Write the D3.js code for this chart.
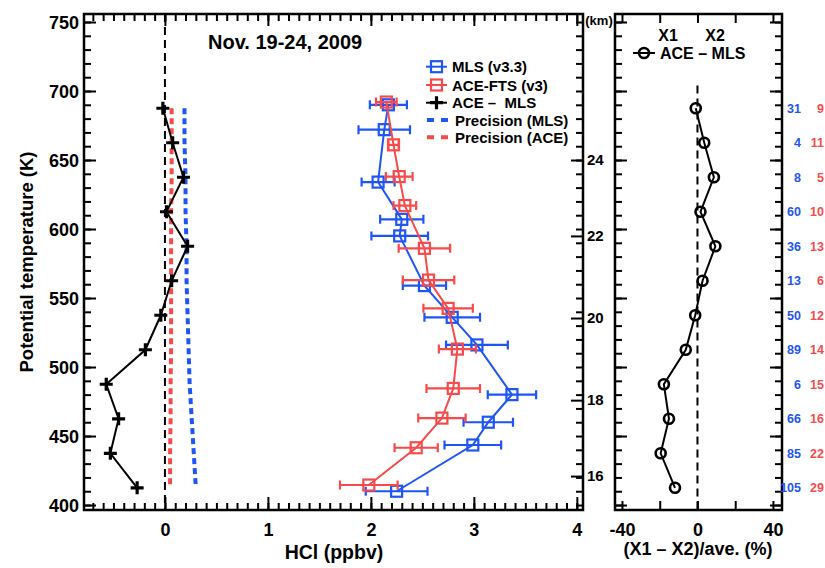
<!DOCTYPE html>
<html><head><meta charset="utf-8">
<script src="https://cdn.jsdelivr.net/npm/d3@7"></script>
<style>
body{margin:0;background:#fff}
svg{display:block}
text{font-family:"Liberation Sans",Arial,Helvetica,sans-serif;font-weight:bold;fill:#000;white-space:pre}
</style>
</head><body>
<svg id="c" width="825" height="568"></svg>
<script>
// ---------------- data ----------------
const thetaLevels = [687.5, 662.5, 637.5, 612.5, 587.5, 562.5, 537.5, 512.5, 487.5, 462.5, 437.5, 412.5];
const diffAceMls  = [-0.02, 0.075, 0.18, 0.015, 0.22, 0.065, -0.04, -0.19, -0.57, -0.45, -0.53, -0.27];
const precMls     = [0.19, 0.19, 0.20, 0.20, 0.21, 0.21, 0.22, 0.23, 0.24, 0.26, 0.28, 0.30];
const precAce     = [0.065, 0.065, 0.065, 0.06, 0.06, 0.06, 0.06, 0.06, 0.055, 0.055, 0.05, 0.05];

const mlsTheta = [690, 672, 634, 607, 595, 559, 536, 516, 480, 460, 443.5, 410];
const mlsHCl   = [2.17, 2.13, 2.07, 2.30, 2.28, 2.52, 2.79, 3.03, 3.37, 3.14, 2.99, 2.25];
const mlsErr   = [0.18, 0.25, 0.16, 0.21, 0.275, 0.21, 0.27, 0.30, 0.235, 0.24, 0.275, 0.30];

const aceTheta = [692, 661, 638, 617, 586, 563, 542.5, 513, 484.5, 463, 441.5, 414.5];
const aceHCl   = [2.15, 2.22, 2.275, 2.33, 2.52, 2.56, 2.75, 2.84, 2.80, 2.69, 2.44, 1.98];
const aceErr   = [0.10, 0.05, 0.13, 0.11, 0.25, 0.25, 0.24, 0.18, 0.26, 0.23, 0.21, 0.28];

const relDiff = [-0.9, 3.6, 8.7, 1.6, 9.5, 2.7, -1.2, -6.2, -17.8, -15.1, -19.5, -11.9];
const nMls = [31, 4, 8, 60, 36, 13, 50, 89, 6, 66, 85, 105];
const nAce = [9, 11, 5, 10, 13, 6, 12, 14, 15, 16, 22, 29];

const kmLabels = [24, 22, 20, 18, 16];
const kmTheta  = [650, 595, 535.5, 476, 421];

const thetaMajorTicks = [400, 450, 500, 550, 600, 650, 700, 750];
const hclMajorTicks = [0, 1, 2, 3, 4];
const pctTicks = [-40, -20, 0, 20, 40];
const pctLabels = [-40, 0, 40];

const titleText = "Nov. 19-24, 2009";
const legendLeft = ["MLS (v3.3)", "ACE-FTS (v3)", "ACE \u2013  MLS", "Precision (MLS)", "Precision (ACE)"];

// ---------------- setup ----------------
const svg = d3.select("#c");
const blue = "#1f55f2", red = "#f74a4a";
const P = {x0: 84, x1: 583, y0: 14, y1: 510};
const Q = {x0: 615, x1: 782};

const y  = d3.scaleLinear().domain([396.4, 755.8]).range([P.y1, P.y0]);
const xL = d3.scaleLinear().domain([-0.786, 4.06]).range([P.x0, P.x1]);
const xR = d3.scaleLinear().domain([-43.7, 44.8]).range([Q.x0, Q.x1]);

function styleAxis(g, fs) {
  g.select(".domain").remove();
  g.selectAll(".tick line").attr("stroke", "#000").attr("stroke-width", 2);
  g.selectAll(".tick text").attr("fill", "#000").style("font-size", fs + "px")
    .style("font-family", '"Liberation Sans",Arial,sans-serif').style("font-weight", "bold");
  return g;
}
function add(axis, tx, ty, fs) {
  return styleAxis(svg.append("g").attr("transform", `translate(${tx},${ty})`).call(axis), fs || 18);
}
const thetaMinor = d3.range(400, 751, 10);
const hclMinor = d3.range(-7, 41).map(i => i / 10);

// ---------------- left panel axes ----------------
add(d3.axisLeft(y).tickValues(thetaMinor).tickSize(-7).tickFormat(""), P.x0, 0);
add(d3.axisLeft(y).tickValues(thetaMajorTicks).tickSize(-12).tickPadding(5).tickFormat(d3.format("d")), P.x0, 0, 18)
  .selectAll(".tick text").attr("dy", "0.36em");
add(d3.axisBottom(xL).tickValues(hclMinor).tickSize(-7).tickFormat(""), 0, P.y1);
add(d3.axisBottom(xL).tickValues(hclMajorTicks).tickSize(-13).tickPadding(13).tickFormat(d3.format("d")), 0, P.y1, 18);
add(d3.axisTop(xL).tickValues(hclMinor).tickSize(-7).tickFormat(""), 0, P.y0);
add(d3.axisTop(xL).tickValues(hclMajorTicks).tickSize(-12).tickFormat(""), 0, P.y0);
add(d3.axisRight(y).tickValues(thetaMinor).tickSize(-7).tickFormat(""), P.x1, 0);
add(d3.axisRight(y).tickValues(kmTheta).tickSize(-12).tickPadding(4).tickFormat((d, i) => kmLabels[i]), P.x1, 0, 15);

svg.append("rect").attr("x", P.x0).attr("y", P.y0).attr("width", P.x1 - P.x0).attr("height", P.y1 - P.y0)
  .attr("fill", "none").attr("stroke", "#000").attr("stroke-width", 2.5);
svg.append("text").attr("x", 599).attr("y", 25).attr("text-anchor", "middle").style("font-size", "13px").text("(km)");

// zero line
svg.append("line").attr("x1", xL(0)).attr("x2", xL(0)).attr("y1", P.y0).attr("y2", P.y1)
  .attr("stroke", "#000").attr("stroke-width", 2).attr("stroke-dasharray", "8,5");

// precision lines
const idx = d3.range(thetaLevels.length);
svg.append("path").attr("d", d3.line().x(i => xL(precMls[i])).y(i => y(thetaLevels[i]))(idx))
  .attr("fill", "none").attr("stroke", blue).attr("stroke-width", 4).attr("stroke-dasharray", "6,4");
svg.append("path").attr("d", d3.line().x(i => xL(precAce[i])).y(i => y(thetaLevels[i]))(idx))
  .attr("fill", "none").attr("stroke", red).attr("stroke-width", 4).attr("stroke-dasharray", "6,4");

// difference line with crosses
svg.append("path").attr("d", d3.line().x(i => xL(diffAceMls[i])).y(i => y(thetaLevels[i]))(idx))
  .attr("fill", "none").attr("stroke", "#000").attr("stroke-width", 2);
const crossPath = "M-6.5,0H6.5M0,-6.5V6.5";
svg.append("g").selectAll("path").data(idx).join("path")
  .attr("transform", i => `translate(${xL(diffAceMls[i])},${y(thetaLevels[i])})`)
  .attr("d", crossPath).attr("stroke", "#000").attr("stroke-width", 3.2).attr("fill", "none");

// series with error bars
function series(th, val, err, col) {
  const g = svg.append("g");
  const ii = d3.range(th.length);
  const eb = g.append("g").attr("stroke", col).attr("stroke-width", 2.2).attr("fill", "none");
  eb.selectAll("path").data(ii).join("path").attr("d", i => {
    const yy = y(th[i]), a = xL(val[i] - err[i]), b = xL(val[i] + err[i]);
    return `M${a},${yy}H${b}M${a},${yy - 4.5}V${yy + 4.5}M${b},${yy - 4.5}V${yy + 4.5}`;
  });
  g.append("path").attr("d", d3.line().x(i => xL(val[i])).y(i => y(th[i]))(ii))
    .attr("fill", "none").attr("stroke", col).attr("stroke-width", 2);
  g.selectAll("rect").data(ii).join("rect")
    .attr("x", i => xL(val[i]) - 5.5).attr("y", i => y(th[i]) - 5.5)
    .attr("width", 11).attr("height", 11).attr("fill", "none").attr("stroke", col).attr("stroke-width", 2.2);
}
series(mlsTheta, mlsHCl, mlsErr, blue);
series(aceTheta, aceHCl, aceErr, red);

// title
svg.append("text").attr("x", 208).attr("y", 49).style("font-size", "20px").text(titleText);

// legend
const legY = [66.7, 85, 102.7, 120, 137.3];
const lg = svg.append("g");
[blue, red].forEach((c, k) => {
  lg.append("line").attr("x1", 426).attr("x2", 447).attr("y1", legY[k]).attr("y2", legY[k]).attr("stroke", c).attr("stroke-width", 2);
  lg.append("rect").attr("x", 431).attr("y", legY[k] - 5.5).attr("width", 11).attr("height", 11)
    .attr("fill", "none").attr("stroke", c).attr("stroke-width", 2.2);
});
lg.append("line").attr("x1", 426).attr("x2", 447).attr("y1", legY[2]).attr("y2", legY[2]).attr("stroke", "#000").attr("stroke-width", 2);
lg.append("path").attr("transform", `translate(436.5,${legY[2]})`).attr("d", crossPath).attr("stroke", "#000").attr("stroke-width", 3.2);
[blue, red].forEach((c, k) => {
  lg.append("line").attr("x1", 427).attr("x2", 449).attr("y1", legY[3 + k]).attr("y2", legY[3 + k])
    .attr("stroke", c).attr("stroke-width", 4).attr("stroke-dasharray", "7,7");
});
legendLeft.forEach((t, k) => {
  lg.append("text").attr("x", k < 3 ? 452 : 455).attr("y", legY[k] + 5.5).style("font-size", "15px").text(t);
});

// axis titles
svg.append("text").attr("transform", "translate(33,262) rotate(-90)").attr("text-anchor", "middle")
  .style("font-size", "18.5px").text("Potential temperature (K)");
svg.append("text").attr("x", 334).attr("y", 559).attr("text-anchor", "middle").style("font-size", "19.5px").text("HCl (ppbv)");

// ---------------- right panel ----------------
add(d3.axisLeft(y).tickValues(thetaMinor).tickSize(-7).tickFormat(""), Q.x0, 0);
add(d3.axisLeft(y).tickValues(thetaMajorTicks).tickSize(-12).tickFormat(""), Q.x0, 0);
add(d3.axisRight(y).tickValues(thetaMinor).tickSize(-7).tickFormat(""), Q.x1, 0);
add(d3.axisRight(y).tickValues(thetaMajorTicks).tickSize(-12).tickFormat(""), Q.x1, 0);
add(d3.axisTop(xR).tickValues(pctTicks).tickSize(-9).tickFormat(""), 0, P.y0);
add(d3.axisBottom(xR).tickValues(pctTicks).tickSize(-9).tickPadding(13)
  .tickFormat(d => pctLabels.includes(d) ? String(d) : ""), 0, P.y1, 18);
svg.append("rect").attr("x", Q.x0).attr("y", P.y0).attr("width", Q.x1 - Q.x0).attr("height", P.y1 - P.y0)
  .attr("fill", "none").attr("stroke", "#000").attr("stroke-width", 2.5);

svg.append("line").attr("x1", xR(0)).attr("x2", xR(0)).attr("y1", y(704)).attr("y2", P.y1)
  .attr("stroke", "#000").attr("stroke-width", 2).attr("stroke-dasharray", "8,5");

svg.append("path").attr("d", d3.line().x(i => xR(relDiff[i])).y(i => y(thetaLevels[i]))(idx))
  .attr("fill", "none").attr("stroke", "#000").attr("stroke-width", 2);
svg.append("g").selectAll("circle").data(idx).join("circle")
  .attr("cx", i => xR(relDiff[i])).attr("cy", i => y(thetaLevels[i])).attr("r", 5)
  .attr("fill", "none").attr("stroke", "#000").attr("stroke-width", 2.6);

svg.append("text").attr("x", 668).attr("y", 41).attr("text-anchor", "middle").style("font-size", "16px").text("X1");
svg.append("text").attr("x", 715).attr("y", 41).attr("text-anchor", "middle").style("font-size", "16px").text("X2");
svg.append("line").attr("x1", 633).attr("x2", 655).attr("y1", 53).attr("y2", 53).attr("stroke", "#000").attr("stroke-width", 2);
svg.append("circle").attr("cx", 644).attr("cy", 53).attr("r", 5).attr("fill", "none").attr("stroke", "#000").attr("stroke-width", 2.6);
svg.append("text").attr("x", 660).attr("y", 59).style("font-size", "16px").text("ACE \u2013 MLS");

svg.append("g").selectAll("text").data(idx).join("text")
  .attr("x", 801).attr("y", i => y(thetaLevels[i]) + 4.5).attr("text-anchor", "end")
  .style("font-size", "12.5px").style("fill", blue).text(i => nMls[i]);
svg.append("g").selectAll("text").data(idx).join("text")
  .attr("x", 824).attr("y", i => y(thetaLevels[i]) + 4.5).attr("text-anchor", "end")
  .style("font-size", "12.5px").style("fill", red).text(i => nAce[i]);

svg.append("text").attr("x", 698).attr("y", 555).attr("text-anchor", "middle").style("font-size", "18px").text("(X1 \u2013 X2)/ave. (%)");
</script>
</body></html>
